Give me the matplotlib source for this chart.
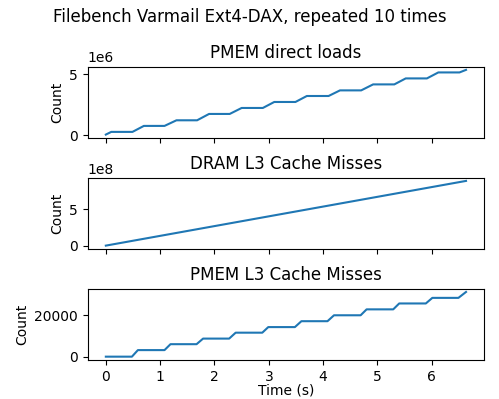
import matplotlib
matplotlib.use('Agg')
import matplotlib.pyplot as plt

# PMEM direct loads (breakpoints of the staircase)
loads_t = [0.0, 0.10, 0.49, 0.70, 1.08, 1.30, 1.68, 1.90, 2.28, 2.50, 2.89, 3.10,
           3.49, 3.70, 4.10, 4.31, 4.70, 4.92, 5.31, 5.52, 5.91, 6.12, 6.51, 6.63]
loads = [0.05e6, 0.27e6, 0.27e6, 0.76e6, 0.76e6, 1.22e6, 1.22e6, 1.74e6, 1.74e6,
         2.23e6, 2.23e6, 2.72e6, 2.72e6, 3.21e6, 3.21e6, 3.67e6, 3.67e6, 4.16e6,
         4.16e6, 4.65e6, 4.65e6, 5.14e6, 5.14e6, 5.35e6]

# DRAM L3 cache misses
dram_t = [0.0, 6.63]
dram = [0.0, 8.84e8]

# PMEM L3 cache misses
pmem_t = [0.0, 0.48, 0.59, 1.08, 1.19, 1.67, 1.79, 2.27, 2.39, 2.88, 2.99, 3.48,
          3.60, 4.08, 4.20, 4.69, 4.80, 5.29, 5.40, 5.89, 6.01, 6.49, 6.63]
pmem = [0, 0, 3170, 3170, 6030, 6030, 8730, 8730, 11590, 11590, 14290, 14290,
        17140, 17140, 20000, 20000, 22860, 22860, 25710, 25710, 28410, 28410, 31270]

fig, axs = plt.subplots(3, 1, sharex=True, figsize=(4.99, 3.99), dpi=100)
fig.suptitle('Filebench Varmail Ext4-DAX, repeated 10 times')

axs[0].plot(loads_t, loads)
axs[0].set_title('PMEM direct loads')
axs[0].set_ylabel('Count')

axs[1].plot(dram_t, dram)
axs[1].set_title('DRAM L3 Cache Misses')
axs[1].set_ylabel('Count')

axs[2].plot(pmem_t, pmem)
axs[2].set_title('PMEM L3 Cache Misses')
axs[2].set_ylabel('Count')
axs[2].set_xlabel('Time (s)', labelpad=0)

plt.subplots_adjust(left=0.176, right=0.970, top=0.833, bottom=0.098, hspace=0.56)
plt.savefig('out.png')
